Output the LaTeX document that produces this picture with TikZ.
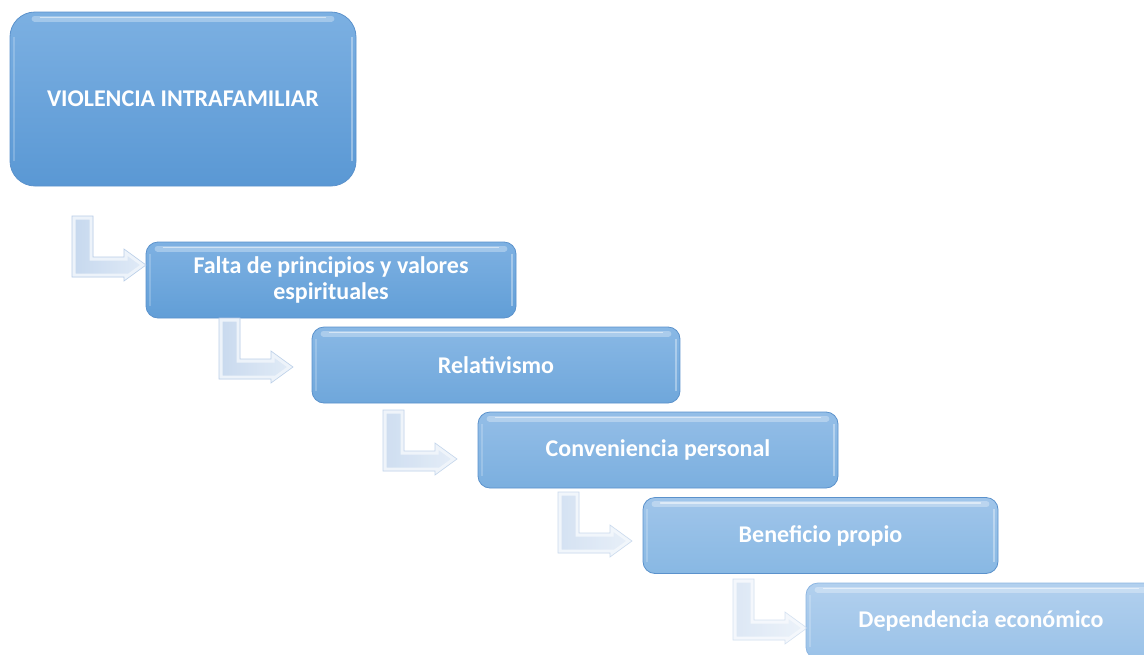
\documentclass[tikz,border=0pt]{standalone}
\usepackage{fontspec}
\setmainfont{Carlito}
\usetikzlibrary{calc}
\definecolor{bordA}{HTML}{5B92CC}
\definecolor{bordF}{HTML}{8DB6E2}
\definecolor{cTa}{HTML}{7CB0E2}
\definecolor{cBa}{HTML}{5A98D4}
\definecolor{cTb}{HTML}{7EB1E2}
\definecolor{cBb}{HTML}{619ED7}
\definecolor{cTc}{HTML}{89B8E5}
\definecolor{cBc}{HTML}{6FA7DB}
\definecolor{cTd}{HTML}{94BEE7}
\definecolor{cBd}{HTML}{7BAFDF}
\definecolor{cTe}{HTML}{A0C5EA}
\definecolor{cBe}{HTML}{88B8E3}
\definecolor{cTf}{HTML}{B2D0EE}
\definecolor{cBf}{HTML}{9AC2E8}
\definecolor{arrL}{HTML}{C6D8EE}
\definecolor{arrR}{HTML}{E1EBF7}
\definecolor{arrB}{HTML}{EDF3FA}
\definecolor{arrE}{HTML}{B9CEE8}
\tikzset{
  gbox/.style n args={4}{rounded corners=#1, minimum width=#2, minimum height=#3,
     draw=bordA, line width=0.8pt, inner sep=0pt, align=center, text=white,
     font=\bfseries\fontsize{24}{26}\selectfont, #4},
  pics/bentarrow/.style={code={
    \begin{scope}[opacity=#1, transparency group]
    \path[left color=arrL, right color=arrR]
      (-74,-49) -- (-53,-49) -- (-53,-8) -- (-22,-8) -- (-22,-16) -- (0,0)
      -- (-22,16) -- (-22,12) -- (-74,12) -- cycle;
    \begin{scope}
      \clip (-74,-49) -- (-53,-49) -- (-53,-8) -- (-22,-8) -- (-22,-16) -- (0,0)
        -- (-22,16) -- (-22,12) -- (-74,12) -- cycle;
      \draw[line width=7pt, arrB, line join=miter]
        (-74,-49) -- (-53,-49) -- (-53,-8) -- (-22,-8) -- (-22,-16) -- (0,0)
        -- (-22,16) -- (-22,12) -- (-74,12) -- cycle;
    \end{scope}
    \draw[line width=0.6pt, arrE]
      (-74,-49) -- (-53,-49) -- (-53,-8) -- (-22,-8) -- (-22,-16) -- (0,0)
      -- (-22,16) -- (-22,12) -- (-74,12) -- cycle;
    \end{scope}
  }},
  gloss/.style={white, opacity=0.3, line width=6pt, line cap=round}
}
\begin{document}
\begin{tikzpicture}[x=1pt, y=-1pt]
\useasboundingbox (0,0) rectangle (1144,654);
\clip (0,0) rectangle (1144,654);
\fill[white] (0,0) rectangle (1144,654);

% boxes
\node[gbox={25pt}{346pt}{174pt}{top color=cTa, bottom color=cBa}] (b1) at (183,99) {VIOLENCIA INTRAFAMILIAR};
\node[gbox={12pt}{370pt}{76pt}{top color=cTb, bottom color=cBb}] (b2) at (331,280) {Falta de principios y valores\\espirituales};
\node[gbox={12pt}{368pt}{76pt}{top color=cTc, bottom color=cBc}] (b3) at (496,365) {Relativismo};
\node[gbox={12pt}{360pt}{76pt}{top color=cTd, bottom color=cBd}] (b4) at (658,450) {Conveniencia personal};
\node[gbox={12pt}{355pt}{76pt}{top color=cTe, bottom color=cBe}] (b5) at (820.5,535.5) {Beneficio propio};
\node[gbox={12pt}{350pt}{76pt}{top color=cTf, bottom color=cBf, draw=bordF}] (b6) at (981,621) {Dependencia económico};

% gloss highlights
\foreach \b/\r in {b1/25,b2/12,b3/12,b4/12,b5/12,b6/12}{
  \draw[gloss] ($(\b.north west)+(\r,7)$) -- ($(\b.north east)+(-\r,7)$);
  \draw[white, opacity=0.5, line width=1.5pt, line cap=round] ($(\b.north west)+(\r+6,6)$) -- ($(\b.north east)+(-\r-6,6)$);
  \draw[white, opacity=0.35, line width=2pt] ($(\b.north east)+(-4,\r)$) -- ($(\b.south east)+(-4,-\r)$);
  \draw[white, opacity=0.2, line width=2pt] ($(\b.north west)+(4,\r)$) -- ($(\b.south west)+(4,-\r)$);
}

% bent arrows
\coordinate (t1) at (146,265);
\coordinate (t2) at (293,367);
\coordinate (t3) at (457,459);
\coordinate (t4) at (632,541);
\coordinate (t5) at (807,628);
\pic at (t1) {bentarrow=1};
\pic at (t2) {bentarrow=0.95};
\pic at (t3) {bentarrow=0.85};
\pic at (t4) {bentarrow=0.75};
\pic at (t5) {bentarrow=0.6};
\end{tikzpicture}
\end{document}
